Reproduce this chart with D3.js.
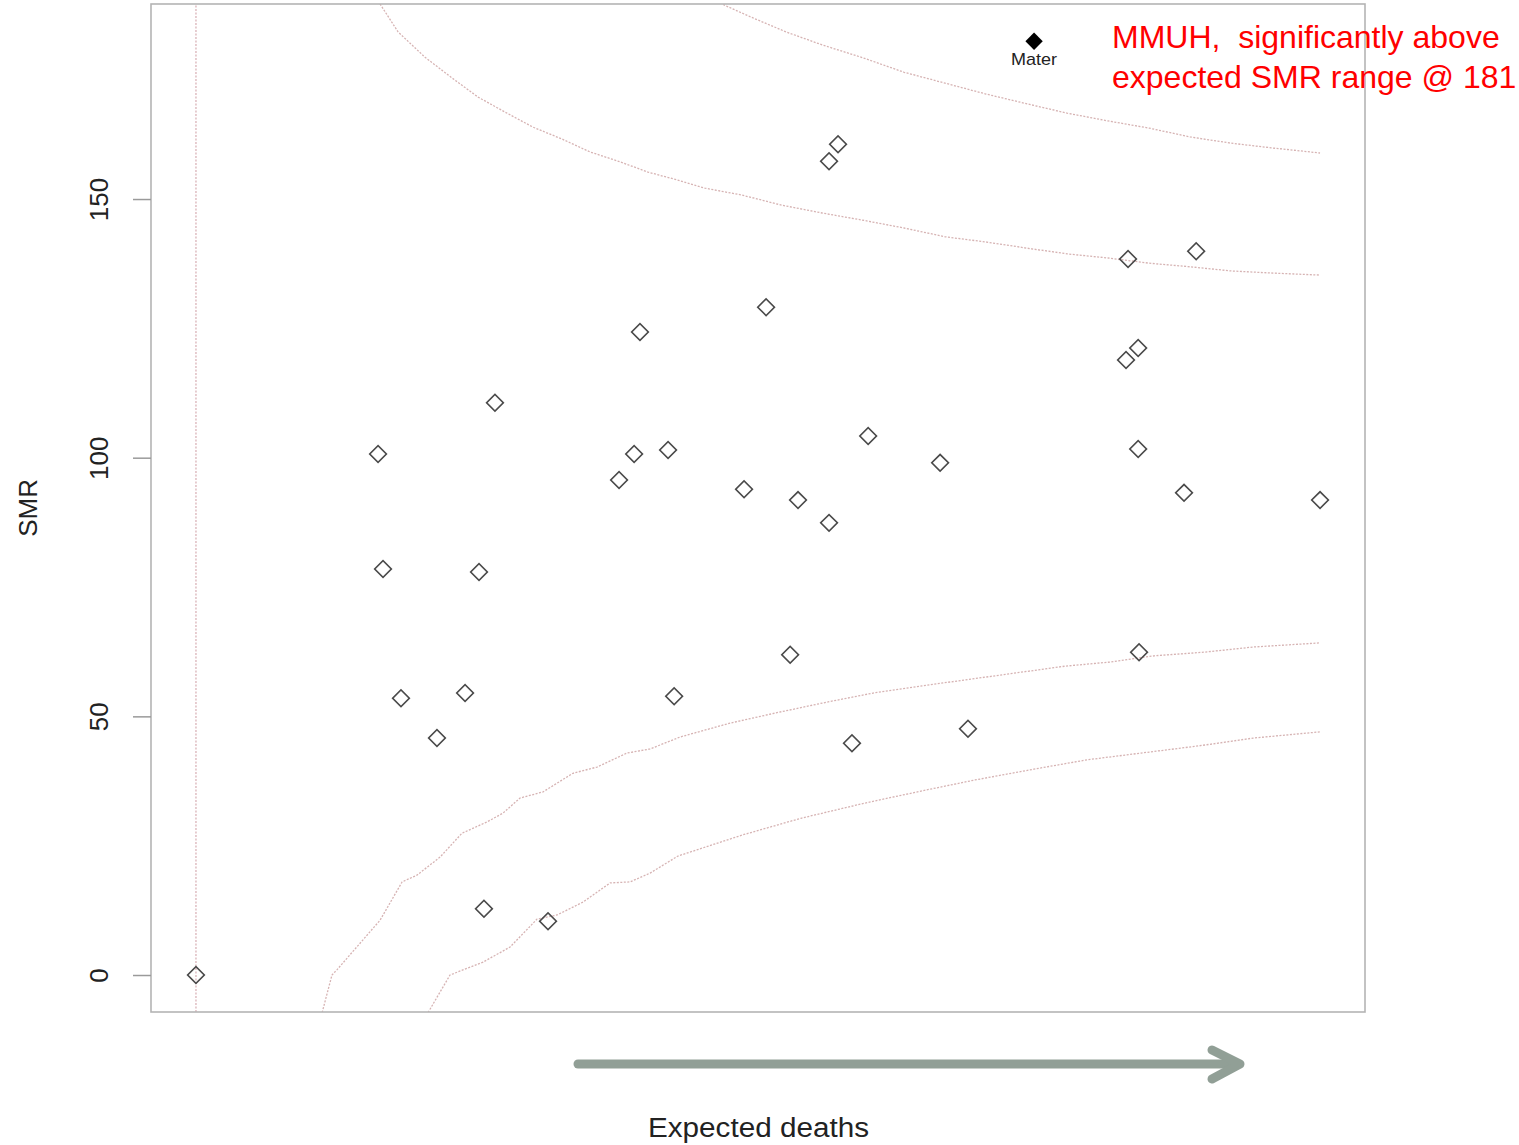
<!DOCTYPE html>
<html>
<head>
<meta charset="utf-8">
<script src="https://cdn.jsdelivr.net/npm/d3@7"></script>
<style>
  body { margin: 0; background: #fff; }
  svg { display: block; font-family: "Liberation Sans", Arial, sans-serif; }
</style>
</head>
<body>
<svg id="chart"></svg>
<script>
// hospitals: expected deaths vs SMR
const expected = [0, 8.10, 8.32, 9.12, 10.72, 11.97, 12.59, 12.81, 13.30, 15.66, 18.82, 19.49, 19.75, 21.00, 21.27,
  24.38, 25.36, 26.43, 26.78, 28.16, 28.16, 28.56, 29.18, 29.90, 33.10, 34.34, 41.37, 41.46, 41.91, 41.91, 41.95,
  43.95, 44.49, 50.00];
const smr = [0, 100.7, 78.5, 53.5, 45.8, 54.5, 77.9, 12.8, 110.6, 10.4, 95.7, 100.7, 124.3, 101.5, 53.9,
  93.9, 129.1, 61.9, 91.8, 87.4, 157.3, 160.6, 44.8, 104.2, 99.0, 47.6, 118.9, 138.4, 121.2, 101.7, 62.4,
  93.2, 139.9, 91.8];

// highlighted hospital
const highlightName = "Mater";
const highlightExpected = 37.28;
const highlightSmr = 180.5;

// control limits [expected, SMR]
const upper998 = [[23.22, 192.3], [23.49, 187.5], [24.78, 185.0], [26.25, 182.3], [27.85, 179.8], [29.67, 177.3],
  [31.50, 174.5], [33.32, 172.4], [35.14, 170.3], [36.97, 168.4], [38.75, 166.6], [40.57, 165.1], [42.40, 163.7],
  [44.22, 162.0], [46.04, 160.8], [47.82, 159.9], [50.00, 158.9]];
const upper95 = [[7.83, 194.3], [8.19, 187.7], [8.99, 182.3], [10.19, 177.4], [11.39, 173.4], [12.55, 169.7],
  [13.75, 166.8], [14.99, 163.9], [16.28, 161.6], [17.53, 159.1], [18.86, 157.2], [20.11, 155.2], [21.40, 153.7],
  [22.64, 152.1], [24.25, 150.8], [26.07, 148.8], [27.85, 147.3], [29.67, 145.9], [31.50, 144.4], [33.32, 142.7],
  [35.14, 141.7], [36.97, 140.5], [38.75, 139.4], [40.57, 138.6], [42.40, 137.6], [44.22, 136.9], [46.04, 136.1],
  [47.82, 135.7], [50.00, 135.3]];
const lower95 = [[5.43, -12.6], [5.61, -7.3], [6.05, 0], [6.27, 1.0], [8.19, 10.6], [9.17, 18.0], [9.83, 19.3],
  [10.86, 22.8], [11.83, 27.4], [12.95, 29.6], [13.66, 31.3], [14.41, 34.2], [15.44, 35.4], [16.77, 39.0],
  [17.84, 40.2], [19.17, 42.9], [20.20, 43.7], [21.53, 46.0], [23.76, 48.7], [25.94, 50.8], [28.12, 52.8],
  [30.12, 54.5], [32.30, 55.9], [34.48, 57.2], [36.48, 58.4], [38.66, 59.7], [40.66, 60.5], [42.62, 61.7],
  [44.84, 62.4], [47.02, 63.4], [50.00, 64.2]];
const lower998 = [[10.14, -12.6], [10.32, -7.3], [11.30, 0], [12.77, 2.5], [13.97, 5.4], [15.17, 10.8], [16.06, 11.6],
  [17.22, 14.1], [18.42, 17.8], [19.31, 18.0], [20.20, 19.7], [21.44, 23.0], [24.33, 27.1], [26.91, 30.3],
  [29.72, 33.2], [32.30, 35.6], [34.65, 37.7], [37.28, 39.8], [39.64, 41.6], [42.04, 42.9], [44.62, 44.3],
  [47.02, 45.8], [50.00, 47.0]];
const zeroLine = [0];

const yTicks = [0, 50, 100, 150];
const xLabel = "Expected deaths";
const yLabel = "SMR";
const note = ["MMUH,  significantly above", "expected SMR range @ 181"];

const width = 1519, height = 1145;
const plotLeft = 151, plotRight = 1365, plotTop = 4, plotBottom = 1012;

const svg = d3.select("#chart").attr("width", width).attr("height", height);

const x = d3.scaleLinear().domain([-2, 52]).range([plotLeft, plotRight]);
const y = d3.scaleLinear().domain([-7.15, 187.7]).range([plotBottom, plotTop]);

svg.append("clipPath").attr("id", "plot-clip")
  .append("rect").attr("x", plotLeft).attr("y", plotTop)
  .attr("width", plotRight - plotLeft).attr("height", plotBottom - plotTop);

const plot = svg.append("g").attr("clip-path", "url(#plot-clip)");

let line = d3.line()
  .x(function(d) { return x(d[0]); })
  .y(function(d) { return y(d[1]); });

plot.selectAll(".zero").data(zeroLine).enter().append("line")
  .attr("x1", d => x(d)).attr("x2", d => x(d))
  .attr("y1", y.range()[0]).attr("y2", y.range()[1])
  .attr("stroke", "#d9b3b8").attr("stroke-width", 1.3).attr("stroke-dasharray", "2,1.5");

[upper998, upper95, lower95, lower998].forEach(function(limit) {
  plot.append("path")
    .attr("fill", "none")
    .attr("stroke", "#d6b3b3")
    .attr("stroke-width", 1.3)
    .attr("stroke-dasharray", "2,1.5")
    .attr("d", line(limit));
});

// frame
svg.append("rect")
  .attr("x", plotLeft).attr("y", plotTop)
  .attr("width", plotRight - plotLeft).attr("height", plotBottom - plotTop)
  .attr("fill", "none").attr("stroke", "#b4b4b4").attr("stroke-width", 1.6);

// y axis
let yAxis = svg.append("g").attr("transform", "translate(" + plotLeft + ",0)")
  .call(d3.axisLeft(y).tickValues(yTicks).tickSize(18).tickSizeOuter(0).tickPadding(0));
yAxis.select(".domain").remove();
yAxis.selectAll(".tick line").attr("stroke", "#9a9a9a").attr("stroke-width", 1.5);
yAxis.selectAll(".tick text")
  .attr("fill", "#222")
  .attr("font-size", 26)
  .attr("text-anchor", "middle")
  .attr("x", null).attr("dy", null)
  .attr("transform", "translate(-43,0) rotate(-90)");

svg.append("text")
  .attr("transform", "translate(37," + y(90.3) + ") rotate(-90)")
  .attr("text-anchor", "middle")
  .attr("font-size", 26)
  .attr("fill", "#222")
  .text(yLabel);

svg.append("text")
  .attr("x", 648).attr("y", 1137)
  .attr("font-size", 27)
  .attr("textLength", 221)
  .attr("lengthAdjust", "spacingAndGlyphs")
  .attr("fill", "#222")
  .text(xLabel);

// hospitals
let diamond = d3.symbol().type(d3.symbolSquare).size(140);

svg.append("g").selectAll("path").data(expected).enter().append("path")
  .attr("d", diamond)
  .attr("transform", (d, i) => "translate(" + x(d) + "," + y(smr[i]) + ") rotate(45)")
  .attr("fill", "none")
  .attr("stroke", "#4a4a4a")
  .attr("stroke-width", 1.6);

svg.append("path")
  .attr("d", d3.symbol().type(d3.symbolSquare).size(150))
  .attr("transform", "translate(" + x(highlightExpected) + "," + y(highlightSmr) + ") rotate(45)")
  .attr("fill", "#000");

svg.append("text")
  .attr("x", x(highlightExpected)).attr("y", y(highlightSmr) + 24)
  .attr("text-anchor", "middle")
  .attr("font-size", 17)
  .attr("textLength", 46)
  .attr("lengthAdjust", "spacingAndGlyphs")
  .attr("fill", "#222")
  .text(highlightName);

// annotation
svg.append("g").selectAll("text").data(note).enter().append("text")
  .attr("x", 1112)
  .attr("y", (d, i) => 48 + i * 40)
  .attr("font-size", 32)
  .attr("fill", "#ff0000")
  .style("white-space", "pre")
  .text(d => d);

// arrow under x axis
let arrow = svg.append("g")
  .attr("stroke", "#919f96")
  .attr("stroke-width", 9)
  .attr("stroke-linecap", "round")
  .attr("stroke-linejoin", "round")
  .attr("fill", "none");
arrow.append("line").attr("x1", 578).attr("x2", 1236).attr("y1", 1064).attr("y2", 1064);
arrow.append("polyline").attr("points", "1212,1050 1240,1064 1212,1079");
</script>
</body>
</html>
